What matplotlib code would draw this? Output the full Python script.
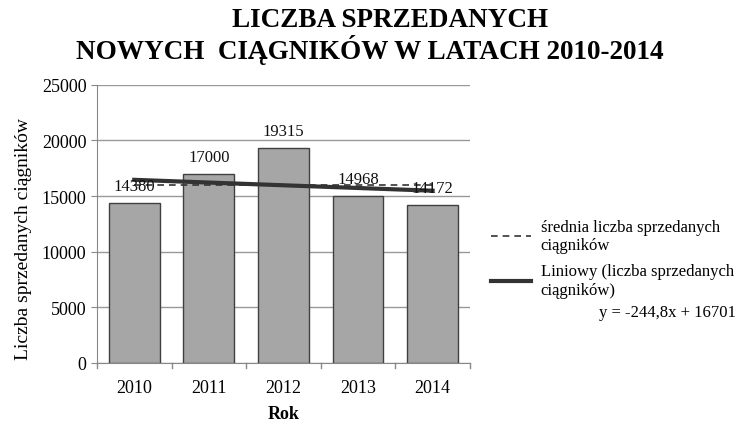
import numpy as np
import matplotlib.pyplot as plt

plt.rcParams['font.family'] = ['Liberation Serif', 'DejaVu Serif']

# dane
lata = ['2010', '2011', '2012', '2013', '2014']
sprzedaz = [14380, 17000, 19315, 14968, 14172]
srednia = [15967, 15967, 15967, 15967, 15967]
trend_a = -244.8
trend_b = 16701

x = np.arange(len(lata))

fig = plt.figure(figsize=(7.4, 4.27), dpi=100)
ax = fig.add_axes([0.131, 0.148, 0.504, 0.651])

ax.bar(x, sprzedaz, width=0.68, color='#a6a6a6', edgecolor='#404040',
       linewidth=1.0, zorder=2)

for xi, v in zip(x, sprzedaz):
    ax.text(xi, v + 800, str(v), ha='center', va='bottom', fontsize=12,
            color='#111111', zorder=4)

l1, = ax.plot(x, srednia, linestyle=(0, (4, 3)), color='#333333',
              linewidth=1.2, zorder=3)
trend = trend_a * (x + 1) + trend_b
l2, = ax.plot(x, trend, color='#333333', linewidth=3, zorder=3)

ax.set_xlim(-0.5, 4.5)
ax.set_ylim(0, 25000)
ax.set_yticks(range(0, 25001, 5000))
ax.set_xticks(x)
ax.set_xticklabels(lata, fontsize=13)
ax.tick_params(axis='y', labelsize=13, length=4, color='#888888')
ax.tick_params(axis='x', length=0, pad=12)
for xb in np.arange(-0.5, 5, 1):
    ax.plot([xb, xb], [0, -500], color='#888888', linewidth=1, clip_on=False)
ax.grid(axis='y', color='#999999', linewidth=1, zorder=0)
ax.set_axisbelow(True)
for s in ['top', 'right']:
    ax.spines[s].set_visible(False)
ax.spines['left'].set_color('#888888')
ax.spines['bottom'].set_color('#888888')

ax.set_ylabel('Liczba sprzedanych ciągników', fontsize=14, labelpad=10)
ax.yaxis.set_label_coords(-0.175, 0.45)
ax.set_xlabel('Rok', fontsize=13, fontweight='bold', labelpad=6)

fig.text(0.527, 0.952, 'LICZBA SPRZEDANYCH', ha='center', va='center',
         fontsize=19.5, fontweight='bold')
fig.text(0.5, 0.883, 'NOWYCH  CIĄGNIKÓW W LATACH 2010-2014', ha='center',
         va='center', fontsize=19.5, fontweight='bold')

fig.legend([l1, l2], ['średnia liczba sprzedanych\nciągników',
                      'Liniowy (liczba sprzedanych\nciągników)'],
           loc='upper left', bbox_to_anchor=(0.643, 0.52), frameon=False,
           fontsize=12, handlelength=2.4, labelspacing=0.6,
           handletextpad=0.6)

fig.text(0.995, 0.268, 'y = -244,8x + 16701', ha='right', va='center',
         fontsize=12)

fig.savefig('out.png', dpi=100, facecolor='white')
